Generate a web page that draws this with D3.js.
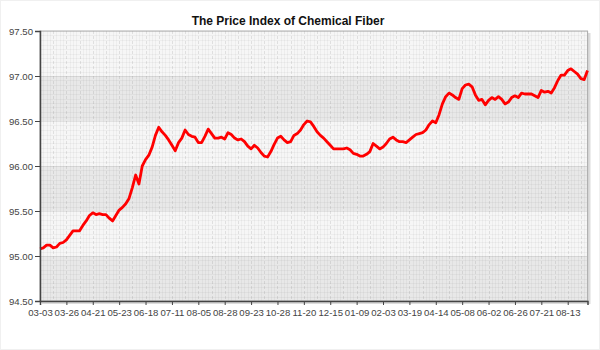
<!DOCTYPE html>
<html>
<head>
<meta charset="utf-8">
<script src="https://cdn.jsdelivr.net/npm/d3@7"></script>
<style>
  body { margin: 0; background: #fff; }
  svg { display: block; font-family: "Liberation Sans", Arial, sans-serif; }
</style>
</head>
<body>
<div id="chart-area"></div>
<script>
// index values, one per trading day sample
const values = [
  95.08, 95.09, 95.12, 95.12, 95.09, 95.10, 95.14, 95.15, 95.18, 95.23,
  95.28, 95.28, 95.28, 95.34, 95.39, 95.45, 95.48, 95.46, 95.47, 95.46,
  95.46, 95.42, 95.39, 95.45, 95.51, 95.54, 95.58, 95.64, 95.76, 95.90,
  95.80, 96.00, 96.07, 96.12, 96.21, 96.34, 96.43, 96.38, 96.34, 96.29,
  96.23, 96.17, 96.26, 96.31, 96.40, 96.35, 96.33, 96.32, 96.26, 96.26,
  96.33, 96.41, 96.36, 96.31, 96.31, 96.32, 96.30, 96.37, 96.35, 96.31,
  96.29, 96.30, 96.27, 96.22, 96.19, 96.23, 96.20, 96.15, 96.11, 96.10,
  96.16, 96.24, 96.31, 96.33, 96.29, 96.26, 96.27, 96.34, 96.36, 96.40,
  96.46, 96.50, 96.49, 96.44, 96.38, 96.34, 96.31, 96.27, 96.23, 96.19,
  96.19, 96.19, 96.19, 96.20, 96.18, 96.14, 96.13, 96.11, 96.11, 96.13,
  96.16, 96.25, 96.22, 96.19, 96.21, 96.25, 96.30, 96.32, 96.29, 96.27,
  96.27, 96.26, 96.29, 96.32, 96.35, 96.36, 96.37, 96.40, 96.46, 96.50,
  96.48, 96.57, 96.69, 96.77, 96.81, 96.79, 96.76, 96.74, 96.86, 96.90,
  96.91, 96.88, 96.79, 96.73, 96.74, 96.68, 96.73, 96.76, 96.74, 96.77,
  96.74, 96.69, 96.71, 96.76, 96.78, 96.76, 96.81, 96.80, 96.80, 96.80,
  96.78, 96.76, 96.84, 96.82, 96.83, 96.81, 96.87, 96.95, 97.01, 97.01,
  97.06, 97.08, 97.05, 97.02, 96.97, 96.96, 97.06
];

// a date label every 8 samples
const tickLabels = ['03-03', '03-26', '04-21', '05-23', '06-18', '07-11', '08-05',
  '08-28', '09-23', '10-28', '11-20', '12-15', '01-09', '02-03', '03-19', '04-14',
  '05-08', '06-02', '06-26', '07-21', '08-13'];
const tickStep = 8;

const yTicks = [94.5, 95.0, 95.5, 96.0, 96.5, 97.0, 97.5];

const W = 600, H = 350;
const margin = {left: 40, right: 12.5, top: 31, bottom: 49};
const width = W - margin.left - margin.right,
    height = H - margin.top - margin.bottom;

const svg = d3.select('#chart-area')
    .append('svg')
    .attr('width', W)
    .attr('height', H);

// faint outer frame
svg.append('rect')
    .attr('x', 0.5).attr('y', 0.5)
    .attr('width', W - 1).attr('height', H - 1)
    .attr('fill', '#fff')
    .attr('stroke', '#f0f0f0');

svg.append('text')
    .text('The Price Index of Chemical Fiber')
    .attr('x', 288)
    .attr('y', 25)
    .attr('text-anchor', 'middle')
    .attr('font-size', '12px')
    .attr('font-weight', 'bold')
    .attr('fill', '#111');

const g = svg.append('g')
    .attr('transform', 'translate(' + margin.left + ', ' + margin.top + ')');

const xScale = d3.scaleLinear()
    .domain([0, values.length - 1])
    .range([0, width]);

const yScale = d3.scaleLinear()
    .domain([94.5, 97.5])
    .range([height, 0]);

// shadow on right and bottom of the plot
g.append('rect')
    .attr('x', 2).attr('y', 2)
    .attr('width', width + 1).attr('height', height + 1)
    .attr('fill', '#dcdcdc');

// alternating bands
d3.pairs(yTicks).forEach(([lo, hi], i) => {
    g.append('rect')
        .attr('x', 0)
        .attr('y', yScale(hi))
        .attr('width', width)
        .attr('height', yScale(lo) - yScale(hi))
        .attr('fill', i % 2 === 0 ? '#e8e8e8' : '#f6f6f6');
});

// minor grid
const grid = g.append('g').attr('shape-rendering', 'crispEdges');
d3.range(0, values.length).forEach(i => {
    grid.append('line')
        .attr('x1', Math.round(xScale(i)) + 0.5).attr('x2', Math.round(xScale(i)) + 0.5)
        .attr('y1', 0).attr('y2', height)
        .attr('stroke', '#000')
        .attr('stroke-opacity', i % 4 === 0 ? 0.09 : 0.035)
        .attr('stroke-dasharray', i % 4 === 0 ? '3,2' : null);
});
d3.range(94.5, 97.5001, 0.05).forEach((v, i) => {
    grid.append('line')
        .attr('x1', 0).attr('x2', width)
        .attr('y1', Math.round(yScale(v)) + 0.5).attr('y2', Math.round(yScale(v)) + 0.5)
        .attr('stroke', '#000')
        .attr('stroke-opacity', i % 10 === 0 ? 0.08 : 0.035);
});

// frame
g.append('rect')
    .attr('x', 0).attr('y', 0)
    .attr('width', width).attr('height', height)
    .attr('fill', 'none')
    .attr('stroke', '#b0b0b0');

const line = d3.line()
    .x((d, i) => xScale(i))
    .y(d => yScale(d))
    .curve(d3.curveLinear);

g.append('path')
    .datum(values)
    .attr('d', line)
    .attr('fill', 'none')
    .attr('stroke', '#ff0000')
    .attr('stroke-width', 2.8)
    .attr('stroke-linejoin', 'round');

const yAxisCall = d3.axisLeft(yScale)
    .tickValues(yTicks)
    .tickFormat(d3.format('.2f'))
    .tickSize(5)
    .tickPadding(2);

const yAxis = g.append('g').call(yAxisCall);

const xAxisCall = d3.axisBottom(xScale)
    .tickValues(tickLabels.map((d, i) => i * tickStep))
    .tickFormat((d, i) => tickLabels[i])
    .tickSize(4)
    .tickPadding(4);

const xAxis = g.append('g')
    .attr('transform', 'translate(0, ' + height + ')')
    .call(xAxisCall);

[xAxis, yAxis].forEach(a => {
    a.select('.domain').attr('stroke', '#444').attr('stroke-width', 1.5);
    a.selectAll('.tick line').attr('stroke', '#444');
    a.selectAll('.tick text')
        .attr('fill', '#444')
        .attr('font-size', '9.6px')
        .attr('font-family', '"Liberation Sans", Arial, sans-serif');
});
</script>
</body>
</html>
